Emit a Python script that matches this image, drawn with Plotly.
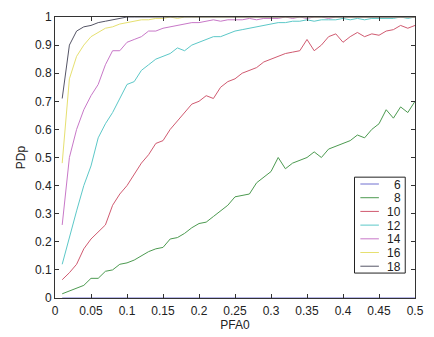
import plotly.graph_objects as go

pfa = [round(0.01 * i, 2) for i in range(1, 51)]

pd_6 = [0.0] * 50
pd_8 = [0.015, 0.025, 0.035, 0.045, 0.07, 0.07, 0.095, 0.10, 0.12, 0.125,
        0.135, 0.15, 0.165, 0.175, 0.18, 0.21, 0.215, 0.23, 0.25, 0.265,
        0.27, 0.29, 0.31, 0.33, 0.36, 0.365, 0.37, 0.41, 0.43, 0.45,
        0.50, 0.46, 0.48, 0.49, 0.50, 0.52, 0.50, 0.53, 0.54, 0.55,
        0.56, 0.58, 0.57, 0.60, 0.62, 0.67, 0.64, 0.68, 0.66, 0.70]
pd_10 = [0.065, 0.09, 0.12, 0.175, 0.21, 0.235, 0.26, 0.33, 0.37, 0.40,
         0.44, 0.48, 0.51, 0.55, 0.56, 0.60, 0.63, 0.66, 0.69, 0.70,
         0.72, 0.71, 0.75, 0.77, 0.78, 0.80, 0.81, 0.82, 0.84, 0.85,
         0.86, 0.87, 0.875, 0.88, 0.92, 0.88, 0.90, 0.93, 0.94, 0.91,
         0.93, 0.945, 0.93, 0.94, 0.935, 0.95, 0.955, 0.97, 0.96, 0.97]
pd_12 = [0.12, 0.22, 0.31, 0.40, 0.47, 0.57, 0.62, 0.66, 0.71, 0.76,
         0.77, 0.81, 0.83, 0.85, 0.86, 0.87, 0.89, 0.88, 0.90, 0.91,
         0.92, 0.93, 0.93, 0.94, 0.95, 0.955, 0.96, 0.965, 0.97, 0.975,
         0.98, 0.98, 0.985, 0.985, 0.99, 0.985, 0.99, 0.99, 0.99, 0.995,
         0.99, 0.995, 0.99, 0.995, 0.995, 0.995, 0.995, 1.0, 0.995, 1.0]
pd_14 = [0.26, 0.50, 0.60, 0.67, 0.72, 0.76, 0.83, 0.88, 0.88, 0.91,
         0.92, 0.93, 0.95, 0.95, 0.96, 0.965, 0.97, 0.975, 0.98, 0.98,
         0.985, 0.99, 0.985, 0.99, 0.99, 0.99, 0.995, 0.99, 0.995, 0.995,
         0.995, 1.0, 0.995, 1.0, 0.995, 1.0, 1.0, 0.995, 1.0, 1.0,
         1.0, 1.0, 1.0, 1.0, 1.0, 1.0, 1.0, 1.0, 1.0, 1.0]
pd_16 = [0.48, 0.78, 0.86, 0.90, 0.93, 0.945, 0.96, 0.965, 0.975, 0.98,
         0.985, 0.99, 0.99, 0.995, 0.995, 1.0, 0.995, 1.0, 1.0, 1.0,
         1.0, 1.0, 1.0, 1.0, 1.0, 1.0, 1.0, 1.0, 1.0, 1.0,
         1.0, 1.0, 1.0, 1.0, 1.0, 1.0, 1.0, 1.0, 1.0, 1.0,
         1.0, 1.0, 1.0, 1.0, 1.0, 1.0, 1.0, 1.0, 1.0, 1.0]
pd_18 = [0.71, 0.90, 0.95, 0.965, 0.97, 0.98, 0.985, 0.99, 0.995, 1.0,
         1.0, 1.0, 1.0, 1.0, 1.0, 1.0, 1.0, 1.0, 1.0, 1.0,
         1.0, 1.0, 1.0, 1.0, 1.0, 1.0, 1.0, 1.0, 1.0, 1.0,
         1.0, 1.0, 1.0, 1.0, 1.0, 1.0, 1.0, 1.0, 1.0, 1.0,
         1.0, 1.0, 1.0, 1.0, 1.0, 1.0, 1.0, 1.0, 1.0, 1.0]

names = ["6", "8", "10", "12", "14", "16", "18"]
series = [pd_6, pd_8, pd_10, pd_12, pd_14, pd_16, pd_18]
colors = ["#7070d0", "#4c9a50", "#d05a70", "#5cc8c8", "#c878c8", "#e6e070", "#555566"]

x_ticks = [0, 0.05, 0.1, 0.15, 0.2, 0.25, 0.3, 0.35, 0.4, 0.45, 0.5]
x_labels = ["0", "0.05", "0.1", "0.15", "0.2", "0.25", "0.3", "0.35", "0.4", "0.45", "0.5"]
y_ticks = [0, 0.1, 0.2, 0.3, 0.4, 0.5, 0.6, 0.7, 0.8, 0.9, 1]
y_labels = ["0", "0.1", "0.2", "0.3", "0.4", "0.5", "0.6", "0.7", "0.8", "0.9", "1"]

W, H = 434, 337
ML, MR, MT, MB = 55, 10, 11, 33
PW, PH = W - ML - MR, H - MT - MB

def px_x(p):
    return (p - ML) / PW

def px_y(p):
    return (H - MB - p) / PH

fig = go.Figure()
for n, s, c in zip(names, series, colors):
    fig.add_trace(go.Scatter(x=pfa, y=s, mode="lines", name=n,
                             line=dict(color=c, width=1), cliponaxis=True))

axis_common = dict(showline=True, mirror="ticks", linecolor="#333333", linewidth=1,
                   ticks="inside", ticklen=4, tickcolor="#333333",
                   showgrid=False, zeroline=False,
                   tickfont=dict(family="Liberation Sans, Arial", size=12, color="#222222"))

# manual legend box (MATLAB-style compact legend)
shapes = [dict(type="rect", xref="paper", yref="paper",
               x0=px_x(362), x1=px_x(414), y0=px_y(278), y1=px_y(178),
               line=dict(color="#222222", width=1), fillcolor="white", layer="above")]
annotations = []
step = 100 / 7
for i, (n, c) in enumerate(zip(names, colors)):
    yc = 178 + step * (i + 0.5)
    shapes.append(dict(type="line", xref="paper", yref="paper",
                       x0=px_x(368), x1=px_x(387), y0=px_y(yc), y1=px_y(yc),
                       line=dict(color=c, width=1), layer="above"))
    annotations.append(dict(xref="paper", yref="paper", x=px_x(411), y=px_y(yc),
                            text=n, showarrow=False, xanchor="right", yanchor="middle",
                            height=13, borderpad=0,
                            font=dict(family="Liberation Sans, Arial", size=12, color="#222222")))

fig.update_layout(
    width=W, height=H,
    margin=dict(l=ML, r=MR, t=MT, b=MB),
    paper_bgcolor="white", plot_bgcolor="white",
    font=dict(family="Liberation Sans, Arial", size=12, color="#222222"),
    xaxis=dict(range=[0, 0.5], tickvals=x_ticks, ticktext=x_labels, ticklabelstandoff=2,
               title=dict(text="PFA0", standoff=0, font=dict(size=12)), **axis_common),
    yaxis=dict(range=[0, 1], tickvals=y_ticks, ticktext=y_labels,
               title=dict(text="PDp", standoff=6, font=dict(size=12)), **axis_common),
    showlegend=False,
    shapes=shapes,
    annotations=annotations,
)

fig.write_html("out.html")
